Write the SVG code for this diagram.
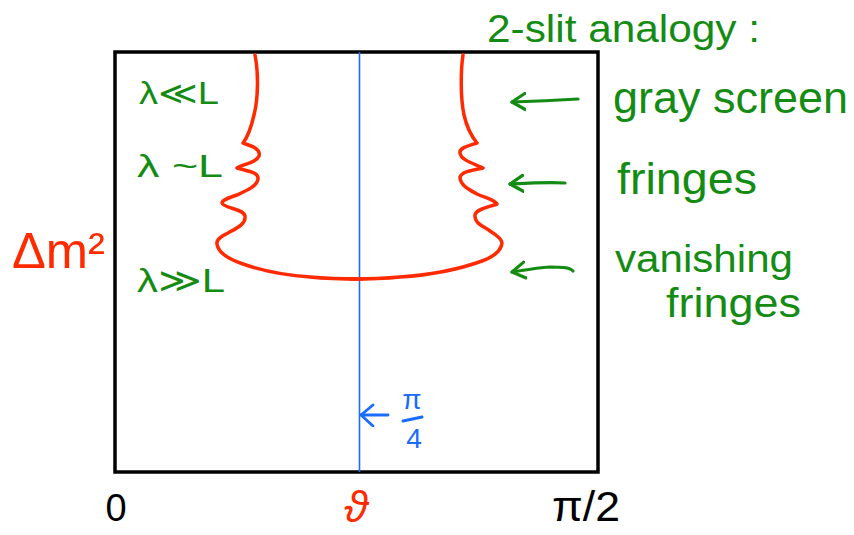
<svg xmlns="http://www.w3.org/2000/svg" width="854" height="535" viewBox="0 0 854 535">
<style>
text{font-family:"Liberation Sans","DejaVu Sans",sans-serif}
.g{fill:#148c14}
.r{fill:#ff2a00}
.b{fill:#1a6cff}
.k{fill:#000}
.ga{stroke:#148c14;stroke-width:3.2;fill:none;stroke-linecap:round;stroke-linejoin:round}
.curve{stroke:#ff2a00;stroke-width:3.5;fill:none;stroke-linecap:round;stroke-linejoin:round}
</style>
<defs>
<marker id="hg" viewBox="-14 -10 18 20" markerWidth="18" markerHeight="20" refX="0" refY="0" orient="auto" markerUnits="userSpaceOnUse">
<path d="M-13,-8 L0,0 L-13,8" fill="none" stroke="#148c14" stroke-width="3.2" stroke-linecap="round" stroke-linejoin="round"/>
</marker>
<marker id="hb" viewBox="-14 -12 18 24" markerWidth="18" markerHeight="24" refX="0" refY="0" orient="auto" markerUnits="userSpaceOnUse">
<path d="M-12,-11 L0,0 L-12,10" fill="none" stroke="#1a6cff" stroke-width="2.8" stroke-linecap="round" stroke-linejoin="round"/>
</marker>
</defs>
<rect width="854" height="535" fill="#fff"/>
<g id="frame">
<rect x="115" y="52" width="483" height="420" fill="none" stroke="#000" stroke-width="3.5"/>
<line x1="359.5" y1="52" x2="359.5" y2="472" stroke="#1a6cff" stroke-width="1.6"/>
</g>
<g id="curve">
<path class="curve" d="M255,55 C258,70 259,95 254,115 C251,128 247,138 243,143 C252,146 261,149 259,156 C256,163 243,164 237,168 C247,171 259,172 258,179 C257,186 248,190 237,195 C228,198 222,200 222,203 C223,208 244,209 245,216 C246,224 237,228 228,233 C220,237 216,240 217,244 C218,252 228,259 243,264 C260,270 280,275 310,277 C330,279 345,279 362,279"/>
<path class="curve" d="M463,55 C461,68 460,95 464,115 C467,128 472,137 477,143 C468,146 459,148 460,153 C461,160 472,163 483,168 C472,170 460,172 460,178 C461,186 470,190 477,194 C486,198 495,200 497,204 C489,207 476,209 475,215 C474,223 483,226 490,231 C498,236 502,240 502,243 C501,252 493,257 482,261 C460,269 430,275 400,277 C380,279 365,279 350,279"/>
</g>
<g id="connectors">
<path class="ga" d="M578,99 C560,100 540,101 512,102" marker-end="url(#hg)"/>
<path class="ga" d="M565,183 C548,182 530,183 510,184" marker-end="url(#hg)"/>
<path class="ga" d="M573,271 C570,267 560,267 550,267 C535,268 525,270 512,272" marker-end="url(#hg)"/>
<path d="M388,415 L361,415" stroke="#1a6cff" stroke-width="2.8" fill="none" stroke-linecap="round" marker-end="url(#hb)"/>
</g>
<g id="title">
<text class="g" x="487" y="42" font-size="38" textLength="273" lengthAdjust="spacingAndGlyphs">2-slit analogy :</text>
</g>
<g id="gray-screen">
<text class="g" x="613" y="113" font-size="44" textLength="235" lengthAdjust="spacingAndGlyphs">gray screen</text>
</g>
<g id="fringes">
<text class="g" x="617" y="194" font-size="44" textLength="140" lengthAdjust="spacingAndGlyphs">fringes</text>
</g>
<g id="vanishing-fringes">
<text class="g" x="615" y="272" font-size="38" textLength="178" lengthAdjust="spacingAndGlyphs">vanishing</text>
<text class="g" x="666" y="317" font-size="40" textLength="135" lengthAdjust="spacingAndGlyphs">fringes</text>
</g>
<g id="lambda-labels">
<text class="g" x="139" y="104" font-size="32" textLength="80" lengthAdjust="spacingAndGlyphs">λ≪L</text>
<text class="g" x="137" y="177" font-size="32" textLength="86" lengthAdjust="spacingAndGlyphs">λ ~L</text>
<text class="g" x="137" y="292" font-size="34" textLength="88" lengthAdjust="spacingAndGlyphs">λ≫L</text>
</g>
<g id="axis-labels">
<text class="r" x="12" y="268" font-size="50" textLength="93" lengthAdjust="spacingAndGlyphs">Δm²</text>
<text class="k" x="116" y="521" font-size="38" text-anchor="middle">0</text>
<text class="r" x="356" y="522" font-size="44" font-style="italic" text-anchor="middle">ϑ</text>
<text class="k" x="552" y="521" font-size="42" textLength="68" lengthAdjust="spacingAndGlyphs">π/2</text>
</g>
<g id="pi-over-4">
<text class="b" x="412" y="409" font-size="28" text-anchor="middle">π</text>
<line x1="403" y1="421" x2="422" y2="417" stroke="#1a6cff" stroke-width="3" stroke-linecap="round"/>
<text class="b" x="414" y="448" font-size="28" text-anchor="middle">4</text>
</g>
</svg>
